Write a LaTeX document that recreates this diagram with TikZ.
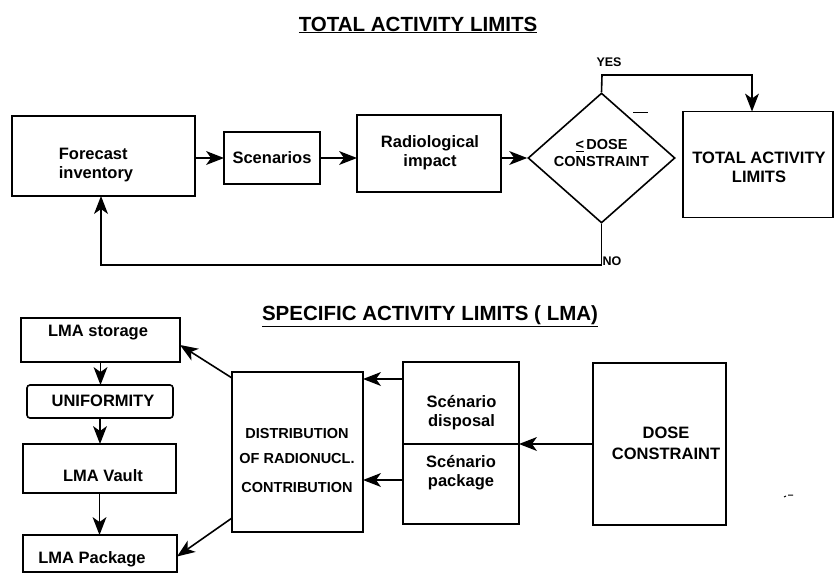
\documentclass[tikz,border=0pt]{standalone}
\usepackage{fontspec}
\setmainfont{Liberation Sans}
\usetikzlibrary{arrows.meta,shapes.geometric}
\begin{document}
\begin{tikzpicture}[x=1pt,y=-1pt,
  box/.style={draw,line width=1.6pt,inner sep=0pt,outer sep=0pt},
  lbl/.style={font=\fontsize{16.5}{19}\selectfont\bfseries,align=center,inner sep=0pt},
  lblsm/.style={font=\fontsize{14.5}{17}\selectfont\bfseries,align=center,inner sep=0pt},
  tiny/.style={font=\fontsize{12.5}{14}\selectfont\bfseries,inner sep=0pt},
  ttl/.style={font=\fontsize{20.5}{24}\selectfont,inner sep=0pt},
  conn/.style={line width=1.6pt},
  arr/.style={conn,-{Stealth[length=18pt,width=14pt,inset=5pt,line width=0pt]}},
]
\useasboundingbox (0,0) rectangle (834,573);

% titles
\node[ttl] (t1) at (418,25) {\underline{\textbf{TOTAL ACTIVITY LIMITS}}};
\node[ttl] (t2) at (430,316) {\underline{\textbf{SPECIFIC ACTIVITY LIMITS ( LMA)}}};

% top row
\node[box,minimum width=183pt,minimum height=80pt] (fc) at (103.5,156) {};
\node[lbl,align=left] (fct) at (96,165) {Forecast\\inventory};
\node[box,minimum width=96pt,minimum height=52pt] (sc) at (272,158) {};
\node[lbl] (sct) at (272,158) {Scenarios};
\node[box,minimum width=144pt,minimum height=77pt] (ri) at (429,153.5) {};
\node[lbl] (rit) at (430,153) {Radiological\\impact};
\node[draw,diamond,line width=1.6pt,inner sep=0pt,minimum width=147pt,minimum height=130pt] (dia) at (601.5,158) {};
\node[lblsm] (diat) at (601.5,153.5) {\underline{<}\,DOSE\\CONSTRAINT};
\node[box,minimum width=150pt,minimum height=106pt] (tal) at (758,164.5) {};
\node[lbl] (talt) at (759,167.5) {TOTAL ACTIVITY\\LIMITS};
\node[tiny] (yes) at (609,62) {YES};
\node[tiny] (no) at (612,261) {NO};

\coordinate (y1) at (602,75);
\coordinate (y2) at (752,75);
\coordinate (n2) at (101,265);

\draw[arr] (fc.east |- sc.west) -- (sc.west);
\draw[arr] (sc.east) -- (sc.east -| ri.west);
\draw[arr] (ri.east |- dia.west) -- (dia.west);
\draw[arr] (dia.north) -- (y1) -- (y2) -- (y2 |- tal.north);
\draw[arr] (dia.south) -- (dia.south |- n2) -- (n2) -- (n2 |- fc.south);
\draw[line width=1pt] (633,112) -- (648,112);

% bottom part
\node[box,minimum width=159pt,minimum height=44pt] (lst) at (100.5,340) {};
\node[lbl] (lstt) at (98,333) {LMA storage};
\node[box,rounded corners=3pt,minimum width=146pt,minimum height=33pt] (uni) at (100,401.5) {};
\node[lbl] (unit) at (103,401) {UNIFORMITY};
\node[box,minimum width=153pt,minimum height=49pt] (lv) at (99.5,468.5) {};
\node[lbl] (lvt) at (103,476) {LMA Vault};
\node[box,minimum width=154pt,minimum height=37pt] (lp) at (100,553.5) {};
\node[lbl] (lpt) at (92,559) {LMA Package};

\node[box,minimum width=131pt,minimum height=160pt] (dist) at (297.5,452) {};
\node[font=\fontsize{14.5}{25}\selectfont\bfseries,align=center,inner sep=0pt] (distt) at (297,460) {DISTRIBUTION\\OF RADIONUCL.\\[4pt]CONTRIBUTION};

\node[box,minimum width=116pt,minimum height=162pt] (scn) at (461,443) {};
\draw[conn] (scn.west |- 0,444) -- (scn.east |- 0,444);
\node[lbl] (scnt1) at (461.5,412.5) {Scénario\\disposal};
\node[lbl] (scnt2) at (461,473) {Scénario\\package};

\node[box,minimum width=133pt,minimum height=162pt] (dc) at (659.5,444) {};
\node[font=\fontsize{16.5}{21}\selectfont\bfseries,align=center,inner sep=0pt] (dct) at (666,443.5) {DOSE\\CONSTRAINT};

\draw[arr] (lst.south) -- (lst.south |- uni.north);
\draw[arr] (uni.south) -- (uni.south |- lv.north);
\draw[arr] (lv.south) -- (lv.south |- lp.north);
\draw[arr] ([yshift=-6pt]dist.north west) -- ([yshift=-5pt]lst.east);
\draw[arr] ([yshift=14pt]dist.south west) -- ([yshift=-3pt]lp.east);
\draw[arr] (scn.west |- 0,379) -- (dist.east |- 0,379);
\draw[arr] (scn.west |- 0,480) -- (dist.east |- 0,480);
\draw[arr] (dc.west) -- (dc.west -| scn.east);
\draw[line width=1pt] (784,497) -- (786,496) (788,495) -- (793,495);
\end{tikzpicture}
\end{document}
